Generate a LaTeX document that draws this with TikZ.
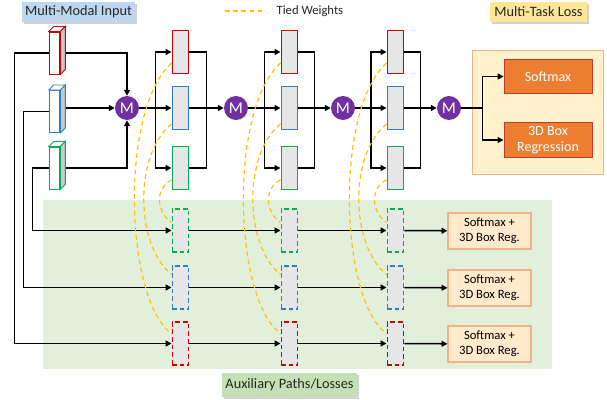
\documentclass[tikz,border=0pt]{standalone}
\usepackage{fontspec}
\setmainfont{Carlito}
\usepackage{xcolor}
\usetikzlibrary{arrows.meta,calc,shadows}

\definecolor{redc}{HTML}{CC0000}
\definecolor{bluec}{HTML}{2E7DC6}
\definecolor{greenc}{HTML}{00B050}
\definecolor{blkgray}{HTML}{E7E6E6}
\definecolor{sidegray}{HTML}{C9C9C9}
\definecolor{mpurple}{HTML}{7030A0}
\definecolor{tiedc}{HTML}{FFC000}
\definecolor{auxbg}{HTML}{E2EFDA}
\definecolor{lossbg}{HTML}{FFF2CC}
\definecolor{lossline}{HTML}{F4B183}
\definecolor{lossorange}{HTML}{ED7D31}
\definecolor{lossedge}{HTML}{C0392B}
\definecolor{auxfill}{HTML}{FFEBCB}
\definecolor{tagblue}{HTML}{BDD7EE}
\definecolor{tagyellow}{HTML}{FFE699}
\definecolor{taggreen}{HTML}{C5E0B4}

\tikzset{
  blk/.style={draw, fill=blkgray, line width=1.1pt, minimum width=0.5cm,
              minimum height=1.29cm, inner sep=0pt},
  auxblk/.style={blk, dash pattern=on 4pt off 2.5pt},
  inbox/.style={draw, fill=white, line width=0.8pt, minimum width=0.32cm,
                minimum height=1.26cm, inner sep=0pt},
  merge/.style={circle, fill=mpurple, text=white, minimum size=0.72cm,
                inner sep=0pt, font=\fontsize{14}{14}\selectfont},
  tag/.style={minimum height=0.6cm, inner sep=2pt, text=black!85,
              drop shadow={shadow xshift=1.5pt, shadow yshift=-1.5pt, fill=black!35},
              font=\fontsize{12.2}{14}\selectfont},
  loss/.style={draw=lossedge, fill=lossorange, text=white, line width=0.8pt,
               minimum width=2.64cm, minimum height=1.03cm, align=center,
               font=\fontsize{12}{13.5}\selectfont},
  auxout/.style={draw=lossline, fill=auxfill, line width=0.9pt,
                 minimum width=2.49cm, minimum height=1.08cm, align=center},
  flow/.style={->, line width=1.3pt},
  bigflow/.style={->, line width=2pt},
  tied/.style={draw=tiedc, line width=1pt, dash pattern=on 4pt off 3pt}
}

\begin{document}
\begin{tikzpicture}[x=0.03cm, y=-0.03cm, >={Triangle[length=5pt,width=5pt]},
                    font=\fontsize{10.8}{12.75}\selectfont]
\useasboundingbox (0,0) rectangle (607,400);

\fill[auxbg] (43,200) rectangle (552,369);
\draw[lossline, fill=lossbg, line width=0.8pt] (472,50) rectangle (603,174);

\node[tag, fill=tagblue, minimum width=3.39cm] (inlabel) at (78.5,12) {Multi-Modal Input};
\node[tag, fill=tagyellow, minimum width=2.91cm] (losslabel) at (538.5,12) {Multi-Task Loss};
\node[tag, fill=taggreen, minimum width=4.05cm, minimum height=0.72cm] (auxlabel)
  at (289.5,385) {Auxiliary Paths/Losses};

\coordinate (tw) at (225,11);
\draw[tied] (tw) -- ++(37,0) node[anchor=west, inner sep=0pt, xshift=12pt, text=black!85]{Tied Weights};

% inputs
\node[inbox, draw=redc] (inr) at (54.5,53) {};
\node[inbox, draw=bluec] (inb) at (54.5,111.5) {};
\node[inbox, draw=greenc] (ing) at (54.5,168) {};

% blocks
\foreach \i/\x in {1/180.5, 2/289.5, 3/395.5}{
  \node[blk, draw=redc] (r\i) at (\x,52) {};
  \node[blk, draw=bluec] (b\i) at (\x,108) {};
  \node[blk, draw=greenc] (g\i) at (\x,168) {};
  \node[auxblk, draw=greenc] (ga\i) at (\x,230.5) {};
  \node[auxblk, draw=bluec] (ba\i) at (\x,287.5) {};
  \node[auxblk, draw=redc] (ra\i) at (\x,343.5) {};
}

\foreach \i/\x in {1/127, 2/236, 3/343, 4/449}
  \node[merge] (m\i) at (\x,108) {M};

\node[loss] (soft) at (548,76.5) {Softmax};
\node[loss] (reg) at (548,140) {3D Box\\Regression};

\node[auxout] (outg) at (489.5,231) {Softmax +\\3D Box Reg.};
\node[auxout] (outb) at (489.5,288) {Softmax +\\3D Box Reg.};
\node[auxout] (outr) at (489.5,344) {Softmax +\\3D Box Reg.};

% main path
\draw[flow] (inr) -| (m1);
\draw[flow] (inb.east |- m1) -- (m1);
\draw[flow] (ing) -| (m1);

\foreach \i/\j in {1/2, 2/3, 3/4}{
  \draw[bigflow] (m\i) -- (b\i);
  \coordinate (s\i) at ($(m\i.east)!.5!(b\i.west)$);
  \draw[flow] (s\i) |- (r\i);
  \draw[flow] (s\i) |- (g\i);
  \coordinate (j\i) at ($(b\i.east)!.5!(m\j.west)$);
  \draw[line width=1.3pt] (r\i) -| (j\i) |- (g\i);
  \draw[bigflow] (b\i) -- (m\j);
}

\coordinate (k0) at ($(m4.east)!.5!(soft.west)$);
\coordinate (k) at (k0 |- m4);
\draw[line width=1.6pt] (m4) -- (k);
\draw[flow] (k) |- (soft);
\draw[flow] (k) |- (reg);

% auxiliary paths
\draw[flow] (inr.west) -- ++(-34,0) |- (ra1);
\draw[flow] (inb.west) -- ++(-25,0) |- (ba1);
\draw[flow] (ing.west) -- ++(-16,0) |- (ga1);

\foreach \p in {r,b,g}{
  \draw[flow] (\p a1) -- (\p a2);
  \draw[flow] (\p a2) -- (\p a3);
  \draw[flow] (\p a3) -- (out\p);
}

% prism faces
\foreach \n/\c in {inr/redc, inb/bluec, ing/greenc}{
  \filldraw[draw=\c, fill=white, line width=0.8pt] (\n.north west) -- ($(\n.north west)+(5,-5)$)
    -- ($(\n.north east)+(5,-5)$) -- (\n.north east) -- cycle;
  \filldraw[draw=\c, fill=sidegray, line width=0.8pt] (\n.north east) -- ($(\n.north east)+(5,-5)$)
    -- ($(\n.south east)+(5,-5)$) -- (\n.south east) -- cycle;
}

% tied weights
\foreach \i in {1,2,3}{
  \draw[tied] ($(r\i.west)+(0,11)$) .. controls +(-52,47) and +(-47,-34) .. ($(ra\i.west)+(0,-10)$);
  \draw[tied] ($(b\i.west)+(0,16)$) .. controls +(-38,31) and +(-36,-29) .. ($(ba\i.west)+(0,-13)$);
  \draw[tied] ($(g\i.west)+(0,12)$) .. controls +(-17,8) and +(-15,-10) .. ($(ga\i.west)+(0,-8)$);
}
\end{tikzpicture}
\end{document}
